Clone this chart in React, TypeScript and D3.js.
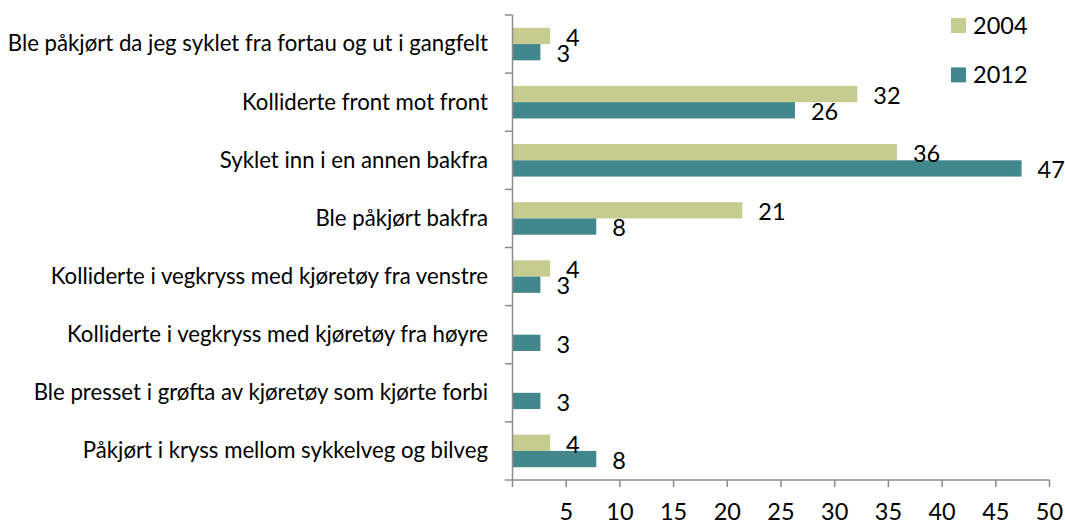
import React from "react";
import * as d3 from "d3";

const categories = [
  "Ble påkjørt da jeg syklet fra fortau og ut i gangfelt",
  "Kolliderte front mot front",
  "Syklet inn i en annen bakfra",
  "Ble påkjørt bakfra",
  "Kolliderte i vegkryss med kjøretøy fra venstre",
  "Kolliderte i vegkryss med kjøretøy fra høyre",
  "Ble presset i grøfta av kjøretøy som kjørte forbi",
  "Påkjørt i kryss mellom sykkelveg og bilveg",
];
const seriesNames = ["2004", "2012"];
const values2004: (number | null)[] = [3.5, 32.1, 35.8, 21.4, 3.5, null, null, 3.5];
const values2012: (number | null)[] = [2.6, 26.3, 47.4, 7.8, 2.6, 2.6, 2.6, 7.8];
const xTicks = [0, 5, 10, 15, 20, 25, 30, 35, 40, 45, 50];
const colors = ["#C6CC8F", "#41878B"];

const W = 1065;
const H = 522;
const left = 512.5;
const right = 1049.5;
const top = 15;
const bottom = 480;
const FONT = "Lato, 'Open Sans', sans-serif";
const FS = 22.2;
const FSN = 23.5;
const axisColor = "#8C8C8C";

export default function App() {
  const x = d3.scaleLinear().domain([0, 50]).range([left, right]);
  const y = d3
    .scaleBand<string>()
    .domain(categories)
    .range([top, bottom])
    .paddingInner(0.44)
    .paddingOuter(0.22);
  const inner = d3
    .scaleBand<string>()
    .domain(seriesNames)
    .range([0, y.bandwidth()]);
  const step = y.step();
  const fmt = d3.format(".0f");
  const series = [values2004, values2012];
  const boundaries = d3.range(categories.length + 1).map((i) => top + i * step);

  return (
    <svg
      width={W}
      height={H}
      style={{ position: "absolute", left: 0, top: 0, background: "#fff" }}
      fontFamily={FONT}
    >
      {series.map((vals, si) =>
        vals.map((v, ci) =>
          v == null ? null : (
            <rect
              key={`b${si}-${ci}`}
              x={x(0)}
              y={(y(categories[ci]) as number) + (inner(seriesNames[si]) as number)}
              width={x(v) - x(0)}
              height={inner.bandwidth()}
              fill={colors[si]}
            />
          )
        )
      )}
      {series.map((vals, si) =>
        vals.map((v, ci) =>
          v == null ? null : (
            <text
              key={`l${si}-${ci}`}
              x={x(v) + 16}
              y={(y(categories[ci]) as number) + (inner(seriesNames[si]) as number) + inner.bandwidth() / 2 + 1.5}
              dy="0.35em"
              fontSize={FSN}
              fill="#000"
            >
              {fmt(v)}
            </text>
          )
        )
      )}
      <line x1={left} x2={left} y1={top} y2={bottom} stroke={axisColor} strokeWidth={1.5} />
      {boundaries.map((b, i) => (
        <line key={`yt${i}`} x1={left - 7.5} x2={left} y1={b} y2={b} stroke={axisColor} strokeWidth={1.5} />
      ))}
      {categories.map((c) => (
        <text
          key={c}
          x={488}
          y={(y(c) as number) + y.bandwidth() / 2}
          dy="0.33em"
          textAnchor="end"
          fontSize={FS}
          fill="#000"
        >
          {c}
        </text>
      ))}
      <line x1={left} x2={right} y1={bottom} y2={bottom} stroke={axisColor} strokeWidth={1.5} />
      {xTicks.map((t) => (
        <g key={`xt${t}`}>
          <line x1={x(t)} x2={x(t)} y1={bottom} y2={bottom + 7} stroke={axisColor} strokeWidth={1.5} />
          {t > 0 && (
            <text x={x(t)} y={520} textAnchor="middle" fontSize={FSN} fill="#000">
              {t}
            </text>
          )}
        </g>
      ))}
      {seriesNames.map((s, i) => (
        <g key={`lg${s}`} transform={`translate(951, ${18 + i * 49.4})`}>
          <rect x={0} y={0} width={15} height={15} fill={colors[i]} />
          <text x={22} y={15.5} fontSize={FSN} fill="#000">
            {s}
          </text>
        </g>
      ))}
    </svg>
  );
}
